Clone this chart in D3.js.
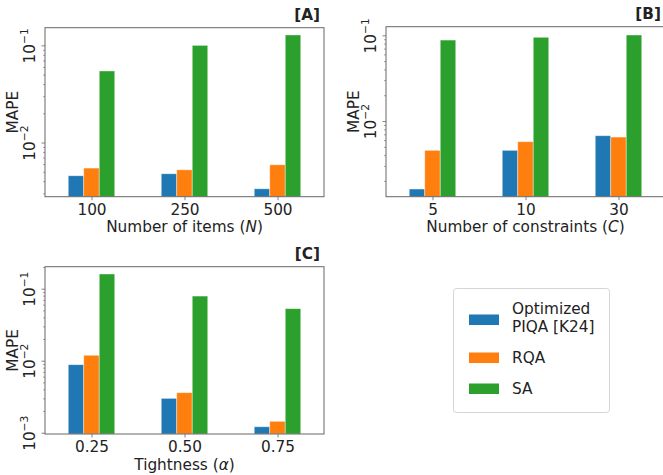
<!DOCTYPE html>
<html><head><meta charset="utf-8">
<script src="https://cdn.jsdelivr.net/npm/d3@7"></script>
<style>body{margin:0;background:#fff} svg{display:block} text{font-family:"DejaVu Sans",sans-serif;fill:#222}</style>
</head><body><svg id="c" width="663" height="475"></svg>
<script>
const seriesNames = ["Optimized PIQA [K24]", "RQA", "SA"];
const colors = ["#1f77b4", "#ff7f0e", "#2ca02c"];

const catsA = ["100", "250", "500"];
const piqaA = [0.00455, 0.00477, 0.00334];
const rqaA  = [0.00546, 0.00524, 0.0059];
const saA   = [0.0545, 0.100, 0.128];

const catsB = ["5", "10", "30"];
const piqaB = [0.00161, 0.00455, 0.00674];
const rqaB  = [0.00455, 0.00574, 0.0065];
const saB   = [0.088, 0.0948, 0.1008];

const catsC = ["0.25", "0.50", "0.75"];
const piqaC = [0.0088, 0.0030, 0.00121];
const rqaC  = [0.0119, 0.0036, 0.00144];
const saC   = [0.160, 0.079, 0.0528];

const yLabel = "MAPE";
const xLabels = [["Number of items (", "N", ")"], ["Number of constraints (", "C", ")"], ["Tightness (", "α", ")"]];
const tags = ["[A]", "[B]", "[C]"];

const svg = d3.select("#c");
const FS = 15.3;

const panels = [
  {cats: catsA, series: [piqaA, rqaA, saA], left: 45, right: 324, top: 27.7, bottom: 196.7, ymin: 0.00277, ymax: 0.152},
  {cats: catsB, series: [piqaB, rqaB, saB], left: 386, right: 665, top: 26.7, bottom: 196.7, ymin: 0.00131, ymax: 0.126},
  {cats: catsC, series: [piqaC, rqaC, saC], left: 45, right: 324, top: 266.7, bottom: 434, ymin: 0.00096, ymax: 0.202}
];

panels.forEach((p, pi) => {
  const g = svg.append("g");
  const x = d3.scaleLinear().domain([-0.5, p.cats.length - 0.5]).range([p.left, p.right]);
  const y = d3.scaleLog().domain([p.ymin, p.ymax]).range([p.bottom, p.top]);
  const w = 1 / 6;

  // bars
  p.series.forEach((vals, si) => {
    g.selectAll(null).data(vals).enter().append("rect")
      .attr("x", (d, i) => x(i + (si - 1) * w - w / 2))
      .attr("width", (d, i) => x(i + (si - 1) * w + w / 2) - x(i + (si - 1) * w - w / 2))
      .attr("y", d => y(d))
      .attr("height", d => p.bottom - y(d))
      .attr("fill", colors[si])
      .attr("stroke", "rgba(255,255,255,0.5)")
      .attr("stroke-width", 0.8);
  });

  // y ticks
  const lo = Math.floor(Math.log10(p.ymin)), hi = Math.ceil(Math.log10(p.ymax));
  const major = [], minor = [];
  for (let e = lo; e <= hi; e++) {
    const v = Math.pow(10, e);
    if (v >= p.ymin && v <= p.ymax) major.push(v);
    for (let k = 2; k <= 9; k++) {
      const m = k * v;
      if (m >= p.ymin && m <= p.ymax) minor.push(m);
    }
  }
  const yMinorAxis = d3.axisLeft(y).tickValues(minor).tickSize(2).tickFormat("");
  const gm = g.append("g").attr("transform", `translate(${p.left},0)`).call(yMinorAxis);
  gm.select(".domain").remove();
  gm.selectAll("line").attr("stroke", "#666").attr("stroke-width", 0.6);

  const yAxis = d3.axisLeft(y).tickValues(major).tickSize(3.5).tickPadding(6.5).tickFormat(d => Math.round(Math.log10(d)));
  const ga = g.append("g").attr("transform", `translate(${p.left},0)`).call(yAxis);
  ga.select(".domain").remove();
  ga.selectAll("line").attr("stroke", "#666").attr("stroke-width", 0.8);
  ga.selectAll(".tick text").each(function (d) {
    const t = d3.select(this);
    const ex = Math.round(Math.log10(d));
    t.text(null)
      .attr("x", null).attr("dy", null)
      .attr("transform", "translate(-10,0) rotate(-90)")
      .attr("text-anchor", "middle")
      .attr("font-size", FS)
      .attr("fill", "#222")
      .style("font-family", '"DejaVu Sans",sans-serif');
    t.append("tspan").text("10");
    t.append("tspan").attr("font-size", FS * 0.7).attr("dy", -7).text(String(ex).replace("-", "−"));
  });

  // x axis
  const xAxis = d3.axisBottom(x).tickValues(d3.range(p.cats.length)).tickFormat(i => p.cats[i]).tickSize(3.5).tickPadding(3.5);
  const gx = g.append("g").attr("transform", `translate(0,${p.bottom})`).call(xAxis);
  gx.select(".domain").remove();
  gx.selectAll("line").attr("stroke", "#666").attr("stroke-width", 0.8);
  gx.selectAll("text").attr("font-size", FS).attr("fill", "#222").style("font-family", '"DejaVu Sans",sans-serif');

  // frame
  g.append("rect").attr("x", p.left).attr("y", p.top)
    .attr("width", p.right - p.left).attr("height", p.bottom - p.top)
    .attr("fill", "none").attr("stroke", "#666").attr("stroke-width", 1);

  // y label
  g.append("text")
    .attr("transform", `translate(${p.left - 27},${(p.top + p.bottom) / 2}) rotate(-90)`)
    .attr("text-anchor", "middle").attr("font-size", FS).text(yLabel);

  // x label
  const xl = g.append("text").attr("x", (p.left + p.right) / 2).attr("y", p.bottom + 35.5)
    .attr("text-anchor", "middle").attr("font-size", FS);
  xl.append("tspan").text(xLabels[pi][0]);
  xl.append("tspan").attr("font-style", "italic").text(xLabels[pi][1]);
  xl.append("tspan").text(xLabels[pi][2]);

  // tag
  g.append("text").attr("x", p.right - 4).attr("y", p.top - 8)
    .attr("text-anchor", "end").attr("font-size", FS).attr("font-weight", "bold").text(tags[pi]);
});

// legend
const lg = svg.append("g");
lg.append("rect").attr("x", 453.5).attr("y", 288.5).attr("width", 156).attr("height", 124)
  .attr("rx", 3).attr("fill", "#fff").attr("stroke", "#d5d5d5").attr("stroke-width", 1);
const legendRows = [
  {patchY: 314.5, lines: ["Optimized", "PIQA [K24]"], baselines: [313.8, 332.3]},
  {patchY: 352.5, lines: ["RQA"], baselines: [363]},
  {patchY: 383.5, lines: ["SA"], baselines: [394]}
];
legendRows.forEach((r, i) => {
  lg.append("rect").attr("x", 469).attr("y", r.patchY).attr("width", 30).attr("height", 10.5)
    .attr("fill", colors[i]);
  r.lines.forEach((ln, k) => {
    lg.append("text").attr("x", 512).attr("y", r.baselines[k]).attr("font-size", FS).text(ln);
  });
});
</script>
</body></html>
